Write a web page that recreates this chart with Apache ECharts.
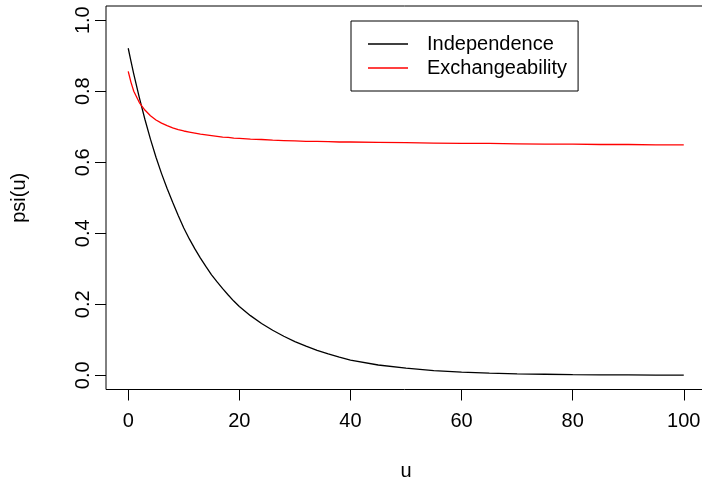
<!DOCTYPE html>
<html>
<head>
<meta charset="utf-8">
<script src="https://cdn.jsdelivr.net/npm/echarts@6/dist/echarts.min.js"></script>
<style>
  html, body { margin: 0; padding: 0; background: #fff; }
  #chart { width: 702px; height: 487px; }
</style>
</head>
<body>
<div id="chart"></div>
<script>
// Ruin probability psi(u) as a function of initial reserve u
const uValues = [0, 0.5, 1, 2, 3, 4, 5, 6, 7, 8, 9, 10, 11, 12, 13, 14, 15, 16, 17, 18, 19, 20,
  22, 24, 26, 28, 30, 32, 34, 36, 38, 40, 45, 50, 55, 60, 65, 70, 75, 80, 85, 90, 95, 100];
const independence = [0.921, 0.884, 0.848, 0.782, 0.721, 0.665, 0.614, 0.568, 0.526, 0.487, 0.450, 0.415, 0.384, 0.356, 0.330, 0.306, 0.283, 0.263, 0.244, 0.226, 0.209, 0.194,
  0.168, 0.146, 0.127, 0.110, 0.095, 0.082, 0.070, 0.060, 0.051, 0.043, 0.029, 0.020, 0.013, 0.009, 0.006, 0.004, 0.003, 0.002, 0.0014, 0.001, 0.0007, 0.0005];
const exchangeability = [0.856, 0.825, 0.800, 0.768, 0.747, 0.731, 0.719, 0.710, 0.703, 0.697, 0.692, 0.688, 0.685, 0.682, 0.679, 0.677, 0.675, 0.673, 0.671, 0.670, 0.668, 0.667,
  0.665, 0.664, 0.662, 0.661, 0.660, 0.659, 0.659, 0.658, 0.657, 0.657, 0.656, 0.655, 0.654, 0.653, 0.653, 0.652, 0.651, 0.651, 0.650, 0.650, 0.649, 0.649];
const xTicks = [0, 20, 40, 60, 80, 100];
const yTicks = [0, 0.2, 0.4, 0.6, 0.8, 1.0];
const seriesNames = ['Independence', 'Exchangeability'];

const font = 'Liberation Sans, Arial, sans-serif';
const pair = (xs, ys) => xs.map((x, i) => [x, ys[i]]);

const chart = echarts.init(document.getElementById('chart'), null, { renderer: 'canvas' });
chart.setOption({
  animation: false,
  backgroundColor: '#ffffff',
  grid: {
    left: 106, top: 6, width: 600, height: 383.5,
    show: true, borderColor: '#000', borderWidth: 1, backgroundColor: 'transparent',
    containLabel: false, outerBoundsMode: 'none'
  },
  xAxis: {
    type: 'value', min: -4, max: 104,
    name: 'u', nameLocation: 'middle', nameGap: 72,
    nameTextStyle: { fontFamily: font, fontSize: 20, color: '#000' },
    axisLine: { show: false, onZero: false },
    splitLine: { show: false },
    axisTick: { show: true, inside: false, length: 11, lineStyle: { color: '#000', width: 1 }, customValues: xTicks },
    axisLabel: {
      fontFamily: font, fontSize: 20, color: '#000', margin: 22,
      customValues: xTicks, formatter: v => String(v)
    }
  },
  yAxis: {
    type: 'value', min: -0.04, max: 1.04,
    name: 'psi(u)', nameLocation: 'middle', nameGap: 77, nameRotate: 90,
    nameTextStyle: { fontFamily: font, fontSize: 20, color: '#000' },
    axisLine: { show: false, onZero: false },
    splitLine: { show: false },
    axisTick: { show: true, inside: false, length: 11, lineStyle: { color: '#000', width: 1 }, customValues: yTicks },
    axisLabel: {
      fontFamily: font, fontSize: 20, color: '#000', margin: 13, rotate: 90,
      customValues: yTicks, formatter: v => v.toFixed(1)
    }
  },
  legend: {
    orient: 'vertical', left: 351, top: 21,
    data: seriesNames,
    icon: 'path://M0,0 L40,0 L40,1.3 L0,1.3 Z',
    itemWidth: 40, itemHeight: 1.3, itemGap: 0,
    padding: [11, 11, 11, 17],
    borderColor: '#000', borderWidth: 1, borderRadius: 0,
    textStyle: { fontFamily: font, fontSize: 20, color: '#000', lineHeight: 24, padding: [0, 0, 0, 14] }
  },
  series: [
    {
      name: seriesNames[0], type: 'line', smooth: false, symbol: 'none',
      data: pair(uValues, independence),
      lineStyle: { color: '#000', width: 1.3 }, itemStyle: { color: '#000' }
    },
    {
      name: seriesNames[1], type: 'line', smooth: false, symbol: 'none',
      data: pair(uValues, exchangeability),
      lineStyle: { color: '#ff0000', width: 1.3 }, itemStyle: { color: '#ff0000' }
    }
  ]
});
</script>
</body>
</html>
